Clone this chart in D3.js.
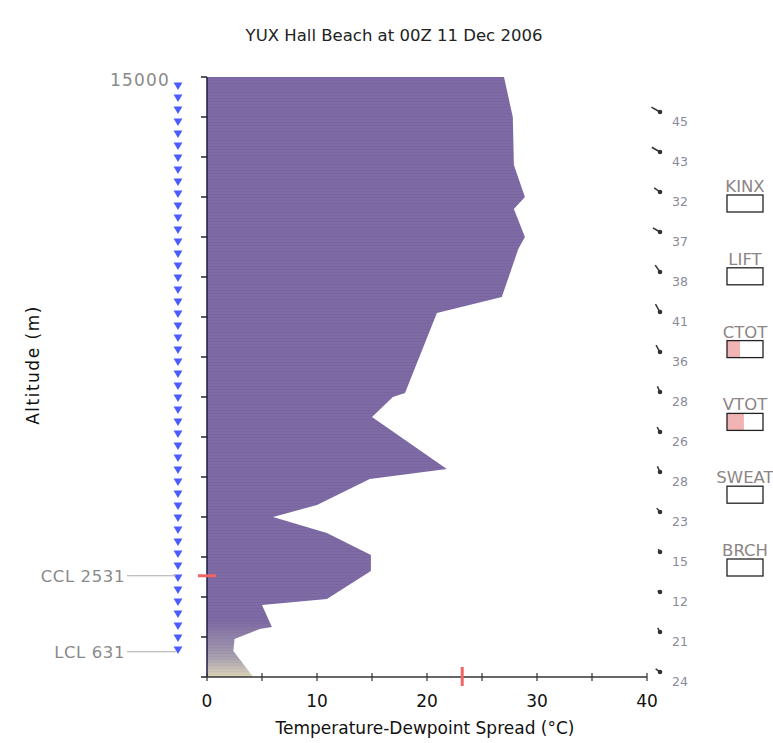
<!DOCTYPE html>
<html>
<head>
<meta charset="utf-8">
<script src="https://cdn.jsdelivr.net/npm/d3@7"></script>
<style>
  body { margin: 0; background: #fff; }
  svg { font-family: "DejaVu Sans", Verdana, sans-serif; }
</style>
</head>
<body>
<svg id="chart" width="773" height="743"></svg>
<script>
// sounding profile: altitude (m) vs temperature-dewpoint spread (degC)
const altitudes = [15000, 14000, 12800, 12000, 11700, 11000, 10700, 9500, 9100, 7100, 7000, 6500, 5200, 4950, 4300, 4000, 3600, 3050, 2650, 1950, 1800, 1250, 1200, 950, 650, 0];
const spreads = [27.0, 27.8, 27.9, 28.9, 27.9, 28.9, 28.3, 26.8, 20.9, 18.0, 16.9, 15.0, 21.8, 14.8, 10.0, 6.0, 10.9, 14.9, 14.9, 10.9, 5.0, 5.9, 4.8, 2.5, 2.4, 4.2];

// wind at each 1000 m level
const windLevels = [14000, 13000, 12000, 11000, 10000, 9000, 8000, 7000, 6000, 5000, 4000, 3000, 2000, 1000, 0];
const windSpeeds = [45, 43, 32, 37, 38, 41, 36, 28, 26, 28, 23, 15, 12, 21, 24];
const windDirs = [300, 300, 305, 300, 325, 330, 330, 335, 330, 335, 320, 330, 300, 330, 305];

// blue markers above the LCL
const markerLevels = [14800, 14500, 14200, 13900, 13600, 13300, 13000, 12700, 12400, 12100, 11800, 11500, 11200, 10900, 10600, 10300, 10000, 9700, 9400, 9100, 8800, 8500, 8200, 7900, 7600, 7300, 7000, 6700, 6400, 6100, 5800, 5500, 5200, 4900, 4600, 4300, 4000, 3700, 3400, 3100, 2800, 2500, 2200, 1900, 1600, 1300, 1000, 700];

const ccl = 2531;
const lcl = 631;
const spreadMark = 23.2;

const xTicks = [0, 5, 10, 15, 20, 25, 30, 35, 40];
const xLabels = [0, 10, 20, 30, 40];
const yTicks = [0, 1000, 2000, 3000, 4000, 5000, 6000, 7000, 8000, 9000, 10000, 11000, 12000, 13000, 14000, 15000];

const indexNames = ['KINX', 'LIFT', 'CTOT', 'VTOT', 'SWEAT', 'BRCH'];
const indexFill = [0, 0, 0.36, 0.47, 0, 0];

const svg = d3.select('#chart');

const x = d3.scaleLinear().domain([0, 40]).range([207, 647]);
const y = d3.scaleLinear().domain([0, 15000]).range([677, 77]);

// gradient near the ground
const defs = svg.append('defs');
const grad = defs.append('linearGradient')
  .attr('id', 'groundFade')
  .attr('gradientUnits', 'userSpaceOnUse')
  .attr('x1', 0).attr('x2', 0)
  .attr('y1', y(0)).attr('y2', y(1400));
grad.append('stop').attr('offset', 0).attr('stop-color', '#ddd5b8');
grad.append('stop').attr('offset', 0.35).attr('stop-color', '#a8a0b0');
grad.append('stop').attr('offset', 1).attr('stop-color', '#7e6aa4');

const pts = altitudes.map((a, i) => [spreads[i], a]);

const area = d3.area()
  .x0(x(0))
  .x1(d => x(d[0]))
  .y(d => y(d[1]));

svg.append('path')
  .datum(pts)
  .attr('d', area)
  .attr('fill', 'url(#groundFade)');

// faint horizontal banding in the fill
const clip = defs.append('clipPath').attr('id', 'areaClip');
clip.append('path').datum(pts).attr('d', area);
svg.append('g')
  .attr('clip-path', 'url(#areaClip)')
  .selectAll('line')
  .data(d3.range(77, 677, 3))
  .join('line')
  .attr('x1', x(0)).attr('x2', x(40))
  .attr('y1', d => d + 0.5).attr('y2', d => d + 0.5)
  .attr('stroke', '#000')
  .attr('stroke-opacity', 0.03);

// title
svg.append('text')
  .attr('x', 394).attr('y', 41)
  .attr('text-anchor', 'middle')
  .attr('font-size', 16.5)
  .attr('fill', '#222')
  .text('YUX Hall Beach at 00Z 11 Dec 2006');

// y axis
svg.append('line')
  .attr('x1', x(0)).attr('x2', x(0))
  .attr('y1', y(15000)).attr('y2', y(0))
  .attr('stroke', '#1c1c4c').attr('stroke-width', 1.5);
svg.append('g').selectAll('line')
  .data(yTicks)
  .join('line')
  .attr('x1', x(0) - 6).attr('x2', x(0))
  .attr('y1', d => y(d)).attr('y2', d => y(d))
  .attr('stroke', '#222').attr('stroke-width', 1.5);

svg.append('text')
  .attr('x', 170).attr('y', y(15000) + 9)
  .attr('text-anchor', 'end')
  .attr('font-size', 17)
  .attr('letter-spacing', 1.2)
  .attr('fill', '#8a8a8a')
  .text('15000');

svg.append('text')
  .attr('transform', `translate(39,${365}) rotate(-90)`)
  .attr('text-anchor', 'middle')
  .attr('font-size', 17)
  .attr('letter-spacing', 1.5)
  .attr('fill', '#111')
  .text('Altitude (m)');

// x axis
svg.append('line')
  .attr('x1', x(0)).attr('x2', x(40))
  .attr('y1', y(0)).attr('y2', y(0))
  .attr('stroke', '#333').attr('stroke-width', 1.5);
svg.append('g').selectAll('line')
  .data(xTicks)
  .join('line')
  .attr('x1', d => x(d)).attr('x2', d => x(d))
  .attr('y1', y(0) - 4).attr('y2', y(0) + 4)
  .attr('stroke', '#333').attr('stroke-width', 1.2);
svg.append('g').selectAll('text')
  .data(xLabels)
  .join('text')
  .attr('x', d => x(d)).attr('y', y(0) + 30)
  .attr('text-anchor', 'middle')
  .attr('font-size', 17)
  .attr('fill', '#111')
  .text(d => d);

svg.append('text')
  .attr('x', 425).attr('y', 734)
  .attr('text-anchor', 'middle')
  .attr('font-size', 17)
  .attr('fill', '#111')
  .text('Temperature-Dewpoint Spread (°C)');

// blue markers
const tri = d3.symbol().type(d3.symbolTriangle).size(34);
svg.append('g').selectAll('path')
  .data(markerLevels)
  .join('path')
  .attr('d', tri)
  .attr('transform', d => `translate(178,${y(d)}) rotate(180)`)
  .attr('fill', '#4a5cff');

// CCL / LCL labels
const levels = [['CCL', ccl], ['LCL', lcl]];
svg.append('g').selectAll('line')
  .data(levels)
  .join('line')
  .attr('x1', 127).attr('x2', 176)
  .attr('y1', d => y(d[1])).attr('y2', d => y(d[1]))
  .attr('stroke', '#aaa').attr('stroke-width', 1);
svg.append('g').selectAll('text')
  .data(levels)
  .join('text')
  .attr('x', 125).attr('y', d => y(d[1]) + 6)
  .attr('text-anchor', 'end')
  .attr('font-size', 16.5)
  .attr('letter-spacing', 0.6)
  .attr('fill', '#8a8a8a')
  .text(d => `${d[0]} ${d[1]}`);

// red markers
svg.append('line')
  .attr('x1', x(0) - 9).attr('x2', x(0) + 9)
  .attr('y1', y(ccl)).attr('y2', y(ccl))
  .attr('stroke', '#f06464').attr('stroke-width', 3);
svg.append('line')
  .attr('x1', x(spreadMark)).attr('x2', x(spreadMark))
  .attr('y1', y(0) - 10).attr('y2', y(0) + 9)
  .attr('stroke', '#f06464').attr('stroke-width', 3);

// wind barbs
const barbs = svg.append('g').selectAll('g')
  .data(windLevels.map((l, i) => ({ l, s: windSpeeds[i], dir: windDirs[i] })))
  .join('g')
  .attr('transform', d => `translate(660,${y(d.l) - 5})`);
barbs.append('line')
  .attr('x1', 0).attr('y1', 0)
  .attr('x2', d => Math.sin(d.dir * Math.PI / 180) * d.s * 0.22)
  .attr('y2', d => -Math.cos(d.dir * Math.PI / 180) * d.s * 0.22)
  .attr('stroke', '#333').attr('stroke-width', 1.5);
barbs.append('circle')
  .attr('r', 2.3)
  .attr('fill', '#333');
svg.append('g').selectAll('text')
  .data(windLevels.map((l, i) => ({ l, s: windSpeeds[i] })))
  .join('text')
  .attr('x', 672).attr('y', d => y(d.l) + 9)
  .attr('font-size', 12.5)
  .attr('fill', '#8a8a9a')
  .text(d => d.s);

// stability index boxes
const idx = svg.append('g').selectAll('g')
  .data(indexNames.map((n, i) => ({ n, f: indexFill[i], i })))
  .join('g')
  .attr('transform', d => `translate(727,${195 + d.i * 72.8})`);
idx.append('rect')
  .attr('width', d => 36 * d.f).attr('height', 17)
  .attr('fill', '#f0b4b4');
idx.append('rect')
  .attr('width', 36).attr('height', 17)
  .attr('fill', 'none')
  .attr('stroke', '#222').attr('stroke-width', 1.3);
idx.append('text')
  .attr('x', 18).attr('y', -3)
  .attr('text-anchor', 'middle')
  .attr('font-size', 16.5)
  .attr('fill', '#8c8584')
  .text(d => d.n);
</script>
</body>
</html>
